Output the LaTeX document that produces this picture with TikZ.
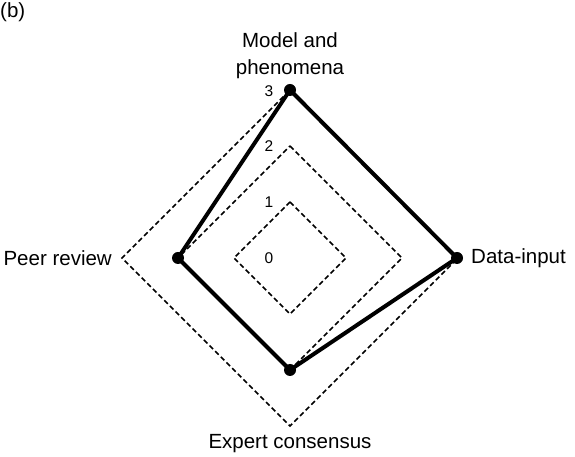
\documentclass[tikz,border=0pt]{standalone}
\usepackage{fontspec}
\setmainfont{Liberation Sans}
\usetikzlibrary{calc}
\begin{document}
\begin{tikzpicture}[x=1pt,y=1pt,
  grid/.style={line width=1.5pt, dash pattern=on 5pt off 3pt},
  profile/.style={line width=4pt, line join=miter},
  dot/.style={circle, fill=black, inner sep=0pt, minimum size=12pt},
  axislabel/.style={font=\fontsize{20.5}{27}\selectfont, inner sep=0pt},
  level/.style={font=\fontsize{15.5}{18}\selectfont, inner sep=0pt}]
\useasboundingbox (0,0) rectangle (575,457);
\coordinate (c) at (290,199);
% reference diamonds for levels 1, 2 and 3
\foreach \k in {1,2,3}{
  \draw[grid] ($(c)+(0,56*\k)$) -- ($(c)+(56*\k,0)$) -- ($(c)+(0,-56*\k)$) -- ($(c)+(-56*\k,0)$) -- cycle;
}
% level numbers
\node[level] (l0) at (269,199) {0};
\node[level] (l1) at (269,255) {1};
\node[level] (l2) at (269,311) {2};
\node[level] (l3) at (269,366) {3};
% scores on the four axes
\node[dot] (top) at (290,367) {};
\node[dot] (right) at (457,199) {};
\node[dot] (bottom) at (290,87) {};
\node[dot] (left) at (178,199) {};
\draw[profile] (top.center) -- (right.center) -- (bottom.center) -- (left.center) -- cycle;
% axis names
\node[axislabel, align=center] (mp) at (290,401) {Model and\\phenomena};
\node[axislabel, anchor=west] (di) at (471,199) {Data-input};
\node[axislabel] (ec) at (290,13) {Expert consensus};
\node[axislabel, anchor=east] (pr) at (112,199) {Peer review};
\node[axislabel, anchor=north west] (tag) at (0,455) {(b)};
\end{tikzpicture}
\end{document}
